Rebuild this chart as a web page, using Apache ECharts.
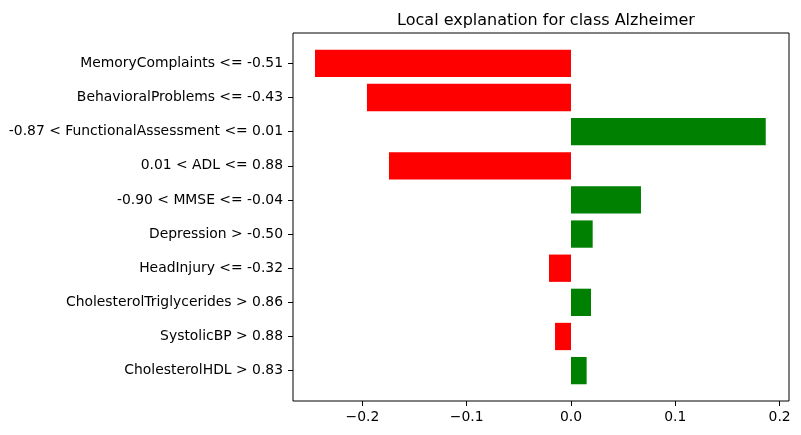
<!DOCTYPE html>
<html>
<head>
<meta charset="utf-8">
<script src="https://cdn.jsdelivr.net/npm/echarts@6/dist/echarts.min.js"></script>
<style>
html,body{margin:0;padding:0;background:#fff;}
#chart{width:801px;height:435px;}
</style>
</head>
<body>
<div id="chart"></div>
<script>
const titleText = 'Local explanation for class Alzheimer';
const categories = [
  'MemoryComplaints <= -0.51',
  'BehavioralProblems <= -0.43',
  '-0.87 < FunctionalAssessment <= 0.01',
  '0.01 < ADL <= 0.88',
  '-0.90 < MMSE <= -0.04',
  'Depression > -0.50',
  'HeadInjury <= -0.32',
  'CholesterolTriglycerides > 0.86',
  'SystolicBP > 0.88',
  'CholesterolHDL > 0.83'
];
const values = [-0.2454, -0.1956, 0.1867, -0.1745, 0.0671, 0.0208, -0.0211, 0.0192, -0.0153, 0.0150];
const xTicks = [-0.2, -0.1, 0.0, 0.1, 0.2];
const xMin = -0.2665;
const xMax = 0.209;

const FONT = 'DejaVu Sans';
const chart = echarts.init(document.getElementById('chart'), null, {renderer: 'canvas'});

const frameTop = 33, frameBottom = 401, frameLeft = 293, frameRight = 789;
const unit = (frameBottom - frameTop) / 10.78;
const barTop = frameTop + 0.39 * unit;
const barBottom = frameBottom - 0.39 * unit;

function fmt(v) {
  const s = Math.abs(v).toFixed(1);
  return v < 0 ? '\u2212' + s : s;
}

chart.setOption({
  backgroundColor: '#ffffff',
  animation: false,
  title: {
    text: titleText,
    left: (frameLeft + frameRight) / 2,
    textAlign: 'center',
    top: 8,
    textStyle: {fontFamily: FONT, fontSize: 16, fontWeight: 'normal', color: '#000'}
  },
  grid: [
    {left: frameLeft, right: 801 - frameRight, top: barTop, bottom: 435 - barBottom, containLabel: false},
    {left: frameLeft, right: 801 - frameRight, top: frameTop, bottom: 435 - frameBottom, containLabel: false,
     show: true, borderColor: '#000', borderWidth: 1, backgroundColor: 'transparent', z: 5}
  ],
  xAxis: [
    {type: 'value', gridIndex: 0, min: xMin, max: xMax, show: false, splitLine: {show: false}},
    {type: 'value', gridIndex: 1, min: xMin, max: xMax, position: 'bottom',
     axisLine: {show: false},
     splitLine: {show: false},
     axisTick: {show: true, length: 5, inside: false, customValues: xTicks, lineStyle: {color: '#000', width: 1}},
     axisLabel: {show: true, customValues: xTicks, formatter: fmt, margin: 9,
       fontFamily: FONT, fontSize: 13.9, color: '#000'}
    }
  ],
  yAxis: [
    {type: 'category', gridIndex: 0, data: categories, inverse: true, position: 'left',
     axisLine: {show: false, onZero: false},
     axisTick: {show: true, alignWithLabel: true, length: 5, lineStyle: {color: '#000', width: 1}},
     axisLabel: {margin: 10, fontFamily: FONT, fontSize: 13.9, color: '#000'},
     splitLine: {show: false}
    },
    {type: 'value', gridIndex: 1, show: false, min: 0, max: 1}
  ],
  series: [{
    type: 'bar',
    xAxisIndex: 0,
    yAxisIndex: 0,
    data: values,
    barWidth: '80%',
    itemStyle: {
      color: function (p) { return p.value > 0 ? '#008000' : '#ff0000'; }
    }
  }]
});
</script>
</body>
</html>
